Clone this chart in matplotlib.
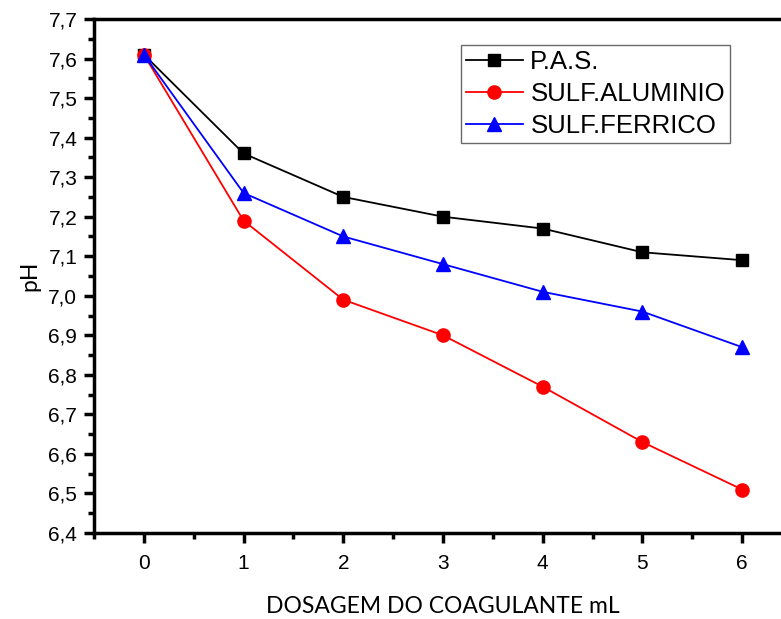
import matplotlib
matplotlib.use('Agg')
import matplotlib.pyplot as plt
from matplotlib.ticker import MultipleLocator, FuncFormatter

dosagem = [0, 1, 2, 3, 4, 5, 6]
ph_pas = [7.61, 7.36, 7.25, 7.20, 7.17, 7.11, 7.09]
ph_aluminio = [7.61, 7.19, 6.99, 6.90, 6.77, 6.63, 6.51]
ph_ferrico = [7.61, 7.26, 7.15, 7.08, 7.01, 6.96, 6.87]

plt.rcParams['font.family'] = ['Liberation Sans', 'DejaVu Sans']

fig = plt.figure(figsize=(7.81, 6.19), dpi=100)
ax = fig.add_axes([94 / 781, 86 / 619, 698 / 781, 514 / 619])

ax.plot(dosagem, ph_pas, color='black', lw=1.3, marker='s', ms=8.5, label='P.A.S.')
ax.plot(dosagem, ph_aluminio, color='red', lw=1.3, marker='o', ms=9.5, label='SULF.ALUMINIO')
ax.plot(dosagem, ph_ferrico, color='blue', lw=1.3, marker='^', ms=10.5, label='SULF.FERRICO')

ax.set_xlim(-0.5, 6.5)
ax.set_ylim(6.4, 7.7)
ax.xaxis.set_major_locator(MultipleLocator(1))
ax.xaxis.set_minor_locator(MultipleLocator(0.5))
ax.yaxis.set_major_locator(MultipleLocator(0.1))
ax.yaxis.set_minor_locator(MultipleLocator(0.05))
ax.yaxis.set_major_formatter(FuncFormatter(lambda v, p: f"{v:.1f}".replace('.', ',')))

for s in ax.spines.values():
    s.set_linewidth(2.5)
ax.tick_params(which='major', direction='out', length=7, width=2.5, labelsize=15)
ax.tick_params(axis='y', which='major', pad=5)
ax.tick_params(axis='x', which='major', pad=8)
ax.tick_params(which='minor', direction='out', length=4, width=2.5)

ax.set_xlabel('DOSAGEM DO COAGULANTE mL', family=['Lato', 'DejaVu Sans'], fontsize=16.5, labelpad=17)
ax.set_ylabel('pH', family=['Lato', 'DejaVu Sans'], fontsize=16.5, labelpad=6)

leg = ax.legend(loc='upper left', bbox_to_anchor=(367 / 698, 1 - 26 / 514), fontsize=18.5,
                frameon=True, fancybox=False, edgecolor='#444444', handlelength=2.2,
                handletextpad=0.3, borderpad=0.2, labelspacing=0.3, borderaxespad=0)
leg.get_frame().set_linewidth(1)

fig.savefig('out.png', dpi=100)
